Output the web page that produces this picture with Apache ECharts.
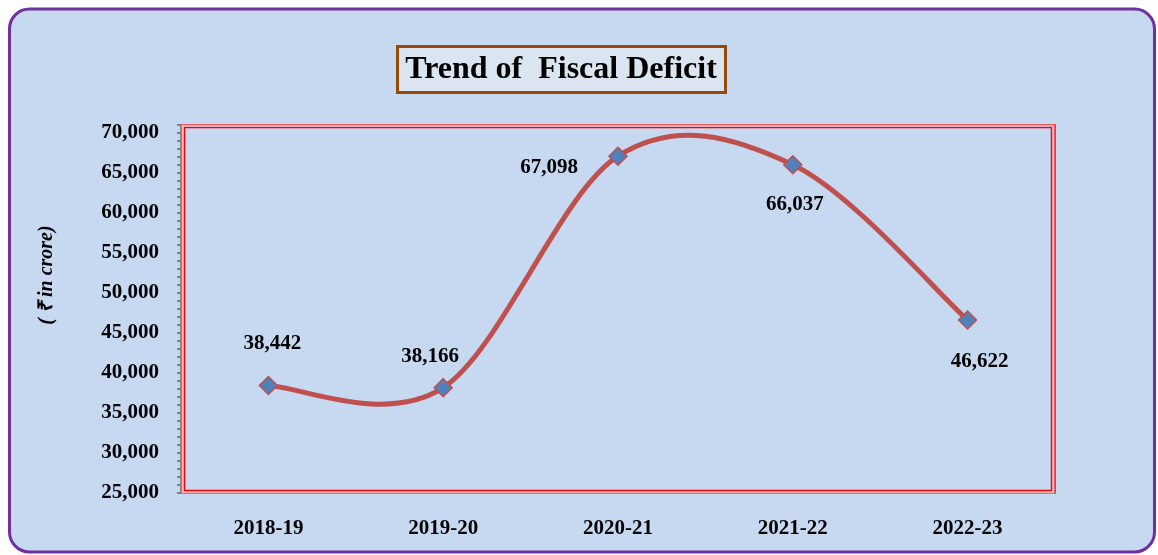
<!DOCTYPE html>
<html><head><meta charset="utf-8">
<script src="https://cdn.jsdelivr.net/npm/echarts@6/dist/echarts.min.js"></script>
<style>html,body{margin:0;padding:0;background:#fff}#c{width:1158px;height:555px}</style>
</head><body><div id="c"></div>
<script>
const categories = ['2018-19','2019-20','2020-21','2021-22','2022-23'];
const deficit = [38442, 38166, 67098, 66037, 46622];
const labelOffsets = [[4,-42],[-13,-31],[-69,11],[2,40],[12,42]];
const titleText = 'Trend of  Fiscal Deficit';
const yAxisName = '( \u20B9 in crore)';

const serif = '"Liberation Serif","Times New Roman",serif';
const chart = echarts.init(document.getElementById('c'), null, {renderer:'canvas'});

// Excel-like Catmull-Rom smoothing through the library's coordinate system
function renderSmooth(params, api) {
  if (params.dataIndex !== 0) return null;
  const pts = deficit.map((v, i) => api.coord([i, v]));
  const n = pts.length;
  let d = 'M' + pts[0][0] + ' ' + pts[0][1];
  for (let i = 0; i < n - 1; i++) {
    const p0 = pts[Math.max(i - 1, 0)], p1 = pts[i], p2 = pts[i + 1], p3 = pts[Math.min(i + 2, n - 1)];
    const c1 = [p1[0] + (p2[0] - p0[0]) / 6, p1[1] + (p2[1] - p0[1]) / 6];
    const c2 = [p2[0] - (p3[0] - p1[0]) / 6, p2[1] - (p3[1] - p1[1]) / 6];
    d += ' C' + c1[0] + ' ' + c1[1] + ' ' + c2[0] + ' ' + c2[1] + ' ' + p2[0] + ' ' + p2[1];
  }
  return {type:'path', shape:{pathData:d}, style:{fill:'none', stroke:'#c0504d', lineWidth:5, lineCap:'round', lineJoin:'round'}};
}

chart.setOption({
  backgroundColor: '#ffffff',
  animation: false,
  graphic: [
    {type:'rect', z:-10, shape:{x:9.5,y:9,width:1145,height:543,r:20}, style:{fill:'#c6d9f1', stroke:'#7030a0', lineWidth:3}},
    {type:'rect', z:10, shape:{x:397.5,y:46.5,width:328,height:46}, style:{fill:'#dbe5f1', stroke:'#984807', lineWidth:3}},
    {type:'text', z:11, x:561, y:70, style:{text:titleText, font:'bold 32px '+serif, fill:'#000', align:'center', verticalAlign:'middle'}},
    {type:'text', z:11, x:47, y:275, rotation:Math.PI/2, style:{text:yAxisName, font:'italic bold 20px '+serif, fill:'#000', align:'center', verticalAlign:'middle'}},
    {type:'rect', z:1, shape:{x:184.5,y:127.5,width:867,height:363}, style:{fill:'none', stroke:'#ff0000', lineWidth:1.5}},
    {type:'rect', z:1, shape:{x:182.5,y:125.5,width:871,height:367}, style:{fill:'none', stroke:'#ffb0b0', lineWidth:1.5}}
  ],
  grid: {left:181, right:103, top:125, bottom:62, show:true, borderColor:'#ff0000', borderWidth:1.5, backgroundColor:'transparent'},
  xAxis: {
    type:'category', data:categories, boundaryGap:true,
    axisLine:{show:true, lineStyle:{color:'#808080', width:2}},
    axisTick:{show:false},
    axisLabel:{margin:25, fontFamily:serif, fontWeight:'bold', fontSize:21, color:'#000'}
  },
  yAxis: {
    type:'value', min:25000, max:71000, interval:5000,
    axisLine:{show:true, lineStyle:{color:'#808080', width:2}},
    axisTick:{show:true, length:4, lineStyle:{color:'#808080', width:2}},
    minorTick:{show:true, splitNumber:5, length:4, lineStyle:{color:'#808080', width:2}},
    splitLine:{show:false},
    axisLabel:{margin:22, showMaxLabel:false, fontFamily:serif, fontWeight:'bold', fontSize:21, color:'#000',
      formatter: v => v.toLocaleString('en-US')}
  },
  series: [
    {type:'custom', renderItem: renderSmooth, data: deficit.map((v,i)=>[i, v]), encode:{x:0, y:1}, z:4, silent:true},
    {
      type:'line', data: deficit.map((v,i)=>({value:v, label:{offset:labelOffsets[i]}})),
      lineStyle:{opacity:0, width:0},
      symbol:'diamond', symbolSize:18,
      itemStyle:{color:'#4f81bd', borderColor:'#c0504d', borderWidth:1.5},
      label:{show:true, position:'inside', fontFamily:serif, fontWeight:'bold', fontSize:21, color:'#000',
        formatter: p => p.value.toLocaleString('en-US')},
      z:5
    }
  ]
});
</script></body></html>
